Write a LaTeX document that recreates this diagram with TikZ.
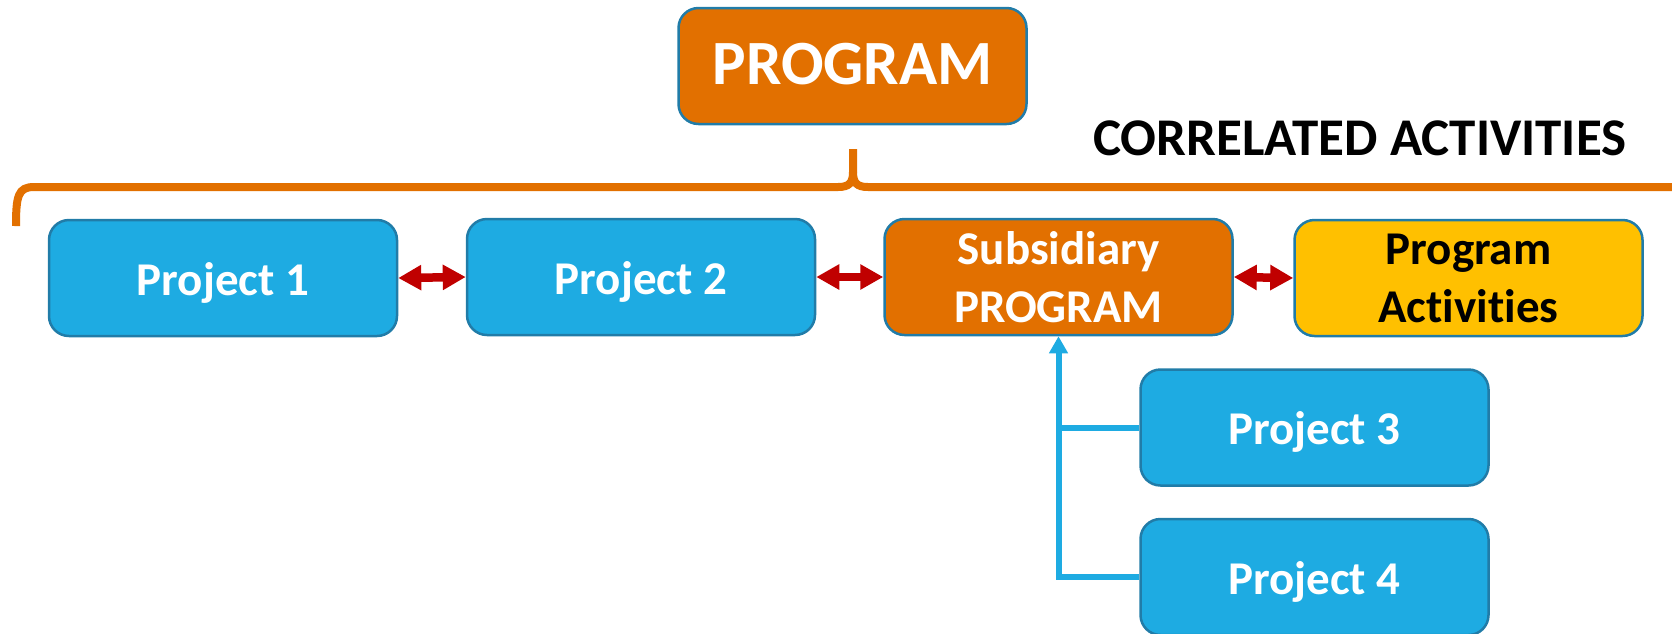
\documentclass[tikz,border=0pt]{standalone}
\usepackage{fontspec}
\setmainfont{Carlito}[RawFeature={-liga;-clig;-calt;-dlig}]
\usetikzlibrary{arrows.meta}
\definecolor{boxblue}{RGB}{30,171,226}
\definecolor{edgeblue}{RGB}{33,124,168}
\definecolor{orng}{RGB}{226,112,0}
\definecolor{yel}{RGB}{255,192,0}
\definecolor{darkred}{RGB}{192,0,0}
\tikzset{
  basebox/.style={draw=edgeblue, line width=2.5pt, rounded corners=20pt, inner sep=0pt,
    minimum width=348pt, minimum height=116pt, font=\bfseries\fontsize{47}{58}\selectfont},
  projbox/.style={basebox, fill=boxblue, text=white, text height=40pt, text depth=6pt},
  subbox/.style={basebox, fill=orng, text=white, align=center},
  actbox/.style={basebox, fill=yel, text=black, align=center},
  topbox/.style={basebox, fill=orng, text=white, font=\bfseries\fontsize{63}{76}\selectfont,
    text height=40pt, text depth=4pt},
  brace/.style={draw=orng, line width=8pt},
  link/.style={draw=boxblue, line width=6pt},
  dbl/.style={draw=darkred, line width=8.5pt, {Triangle[length=23pt,width=24pt]}-{Triangle[length=23pt,width=24pt]}},
}
\begin{document}
\begin{tikzpicture}[x=1pt,y=-1pt]
\useasboundingbox (0,0) rectangle (1672,633);
% nodes
\node[topbox] (prog) at (852.5,66) {PROGRAM};
\node[projbox] (p1) at (223,278) {Project 1};
\node[projbox] (p2) at (641,277) {Project 2};
\node[subbox] (sub) at (1058.5,277) {Subsidiary\\PROGRAM};
\node[actbox] (act) at (1468.5,278) {Program\\Activities};
\node[projbox] (p3) at (1314.5,427.5) {Project 3};
\node[projbox] (p4) at (1314.5,577) {Project 4};
\node[anchor=base west, inner sep=0pt, font=\bfseries\fontsize{53}{64}\selectfont] (corr) at (1093,155) {CORRELATED ACTIVITIES};
% brace
\coordinate (bl) at (16,226);
\coordinate (bt) at (853,149);
\coordinate (br) at (1690,187);
\draw[brace] (bl) .. controls (16,196) and (18,187) .. (34,187) -- (838,187)
  .. controls (849,187) and (853,183) .. (853,172) -- (bt);
\draw[brace] (853,172) .. controls (853,183) and (857,187) .. (868,187) -- (br);
% red double arrows
\draw[dbl] (p1.east) -- (p2.west);
\draw[dbl] (p2.east) -- (sub.west);
\draw[dbl] (sub.east) -- (act.west);
% blue connectors
\draw[link, -{Triangle[length=17pt,width=18pt]}] (p4.west) -| (sub.south);
\draw[link] (p3.west) -- (p3.west -| sub.south);
\end{tikzpicture}
\end{document}
